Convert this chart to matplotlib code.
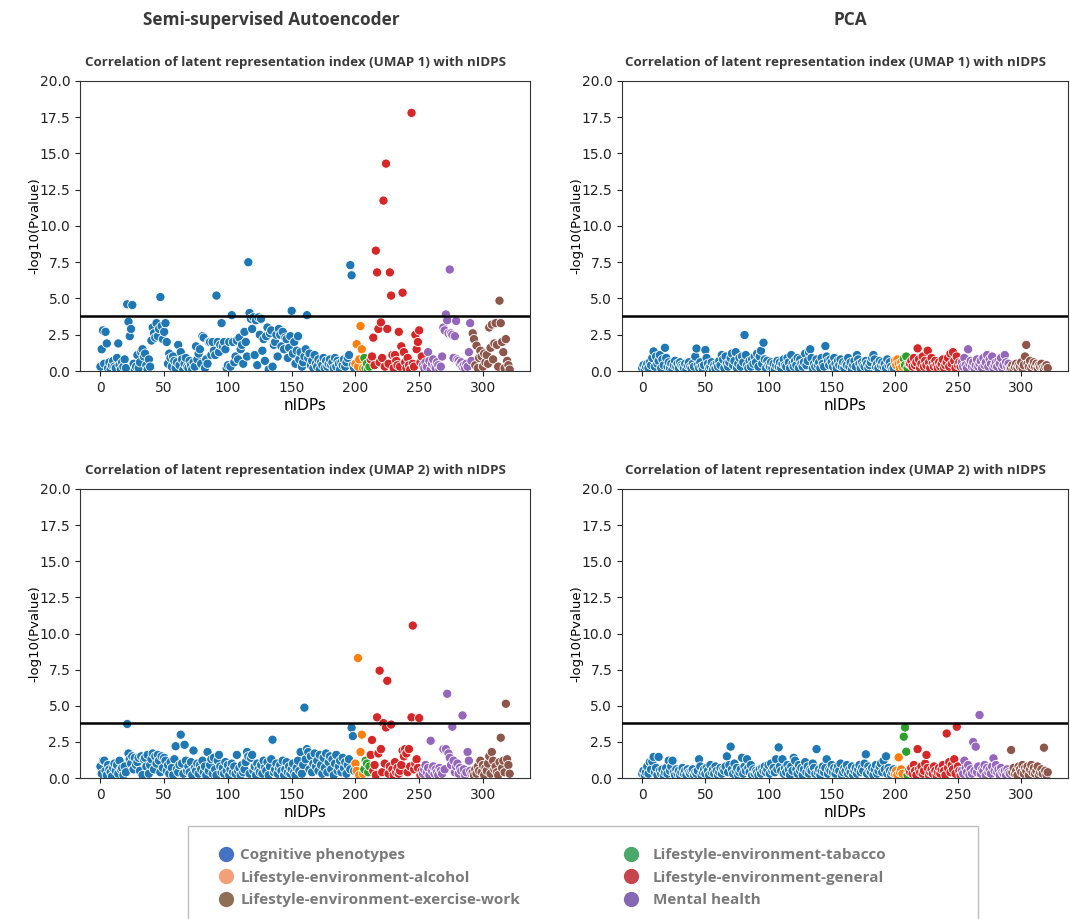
import numpy as np
import matplotlib.pyplot as plt
from matplotlib.lines import Line2D
from matplotlib.patches import Rectangle

# Categorías en el orden de los nIDPs.
categorias = [
    "Cognitive phenotypes",
    "Lifestyle-environment-alcohol",
    "Lifestyle-environment-tabacco",
    "Lifestyle-environment-general",
    "Mental health",
    "Lifestyle-environment-exercise-work",
]
colores_puntos = ["#1f77b4", "#ff7f0e", "#2ca02c", "#d62728", "#9467bd", "#8c564b"]

# Leyenda común (orden por columnas).
orden_leyenda = [0, 1, 5, 2, 3, 4]
colores_leyenda = ["#4672c4", "#f2a077", "#4aa86a", "#c4454b", "#8468b4", "#8e6e55"]

umbral = 3.81
columnas = ["Semi-supervised Autoencoder", "PCA"]
titulo_umap1 = "Correlation of latent representation index (UMAP 1) with nIDPS"
titulo_umap2 = "Correlation of latent representation index (UMAP 2) with nIDPS"

# ---------------- Autoencoder, UMAP 1 ----------------
ae_u1_cognitive = [
    0.3, 1.5, 2.8, 0.5, 2.7, 1.9, 0.2, 0.6, 0.1, 0.4,
    0.7, 0.3, 0.2, 0.9, 1.9, 0.4, 0.1, 0.6, 0.3, 0.8,
    0.2, 4.6, 3.4, 2.4, 2.9, 4.55, 0.5, 0.1, 0.3, 1.1,
    0.2, 0.6, 1.3, 1.5, 1.0, 1.2, 0.4, 0.1, 0.8, 0.3,
    2.1, 3.0, 2.6, 2.3, 3.3, 2.4, 2.9, 5.1, 3.1, 2.2,
    2.7, 3.3, 2.0, 0.5, 1.2, 0.9, 0.3, 1.0, 0.7, 0.2,
    0.6, 1.8, 0.4, 1.3, 0.8, 0.1, 0.5, 0.9, 0.3, 0.2,
    0.7, 0.4, 0.1, 0.6, 0.3, 1.7, 0.8, 1.2, 1.5, 0.5,
    2.4, 2.3, 0.2, 0.8, 0.5, 2.0, 2.0, 1.1, 2.0, 1.4,
    1.1, 5.2, 2.0, 1.3, 1.8, 3.3, 1.7, 2.0, 1.5, 0.2,
    0.4, 2.0, 0.3, 3.85, 2.0, 0.6, 1.0, 2.1, 0.8, 2.3,
    1.5, 1.8, 0.5, 2.7, 2.0, 1.0, 7.5, 4.0, 3.6, 2.9,
    3.7, 1.1, 3.5, 0.4, 3.7, 2.5, 3.6, 1.4, 2.2, 0.7,
    2.4, 3.0, 0.1, 2.6, 2.8, 0.3, 1.8, 2.0, 2.5, 1.0,
    2.9, 2.5, 1.7, 2.7, 1.5, 2.3, 2.2, 0.9, 1.6, 2.4,
    4.15, 1.2, 2.0, 0.5, 1.4, 2.4, 0.8, 1.3, 0.3, 0.6,
    1.0, 1.5, 3.85, 0.9, 1.2, 0.4, 0.7, 0.2, 1.1, 0.5,
    0.3, 0.8, 0.1, 0.6, 0.4, 0.9, 0.2, 0.7, 0.3, 0.5,
    0.8, 0.4, 0.6, 0.2, 0.9, 0.3, 0.7, 0.5, 0.1, 0.6,
    0.4, 0.8, 0.3, 0.6, 0.9, 1.1, 7.3, 6.6, 0.4, 0.2,
]
ae_u1_alcohol = [0.5, 1.85, 0.3, 0.8, 3.1, 1.5, 0.2]
ae_u1_tabacco = [0.9, 0.2, 0.5, 0.1, 0.3]
ae_u1_general = [
    0.8, 1.0, 2.3, 0.4, 8.3, 6.8, 2.9, 0.6, 3.35, 0.9,
    11.75, 0.3, 14.3, 2.9, 0.5, 6.8, 5.2, 1.1, 0.2, 1.1,
    0.7, 0.4, 2.7, 0.3, 1.7, 5.4, 1.3, 0.6, 0.2, 0.9,
    0.4, 0.1, 17.8, 0.5, 0.3, 2.5, 1.5, 2.0, 2.8, 0.6,
    1.0,
]
ae_u1_mental = [
    0.4, 0.2, 0.6, 0.3, 1.3, 0.7, 0.1, 0.5, 0.8, 0.3,
    0.2, 0.6, 0.4, 0.1, 0.3, 1.0, 3.0, 2.8, 3.9, 3.5,
    2.6, 7.0, 2.6, 2.5, 0.9, 2.4, 3.45, 0.8, 0.7, 0.5,
    0.6, 0.3, 0.4, 0.2, 0.5, 0.3, 1.3, 3.3, 0.7,
]
ae_u1_exercise = [
    2.6, 2.2, 0.4, 1.75, 0.2, 0.9, 1.4, 1.0, 0.3, 1.2,
    0.6, 1.1, 0.5, 3.0, 1.6, 3.2, 0.8, 1.9, 3.3, 1.8,
    0.3, 4.85, 3.3, 2.0, 1.3, 0.2, 2.2, 0.7, 0.4, 0.1,
]

# ---------------- PCA, UMAP 1 ----------------
pca_u1_cognitive = [
    0.2, 0.4, 0.1, 0.3, 0.5, 0.2, 0.6, 0.4, 0.9, 1.35,
    0.3, 1.0, 0.5, 0.7, 1.1, 0.2, 0.8, 0.4, 1.6, 0.9,
    0.3, 0.6, 0.2, 0.5, 0.1, 0.4, 0.7, 0.3, 0.5, 0.2,
    0.6, 0.4, 0.3, 0.2, 0.5, 0.1, 0.4, 0.6, 0.3, 0.2,
    0.5, 0.3, 1.0, 1.55, 0.4, 0.2, 0.6, 0.3, 0.1, 0.4,
    1.45, 0.9, 0.5, 0.2, 0.3, 0.6, 0.1, 0.4, 0.2, 0.5,
    0.3, 0.7, 0.4, 1.1, 0.8, 0.2, 1.0, 0.5, 0.3, 0.6,
    0.9, 1.2, 0.4, 0.7, 1.3, 0.2, 0.5, 0.9, 0.3, 1.0,
    0.6, 2.48, 1.1, 0.4, 0.2, 0.7, 0.3, 0.8, 0.5, 1.0,
    0.6, 1.2, 0.3, 1.0, 1.4, 0.5, 1.95, 0.8, 0.2, 0.7,
    0.4, 0.3, 0.6, 0.2, 0.5, 0.1, 0.4, 0.7, 0.3, 0.6,
    0.2, 0.5, 0.8, 0.4, 0.3, 0.9, 0.6, 0.2, 1.1, 0.5,
    0.3, 0.7, 0.4, 0.9, 0.2, 0.8, 0.5, 0.3, 0.6, 1.2,
    0.4, 0.7, 1.3, 1.5, 0.9, 0.2, 0.5, 0.3, 0.8, 0.4,
    0.6, 0.2, 0.9, 0.5, 0.3, 1.72, 1.0, 0.7, 0.4, 0.8,
    0.6, 0.3, 0.9, 0.5, 0.2, 0.7, 0.4, 0.8, 0.3, 0.6,
    0.2, 0.5, 0.4, 0.9, 0.3, 0.6, 0.1, 0.4, 0.7, 0.3,
    1.1, 0.8, 0.5, 0.2, 0.6, 0.4, 0.3, 0.7, 0.5, 0.2,
    0.4, 0.6, 0.9, 1.1, 0.8, 0.3, 0.5, 0.2, 0.7, 0.4,
    0.6, 0.3, 0.5, 0.2, 0.8, 0.4, 0.6, 0.3, 0.1, 0.2,
]
pca_u1_alcohol = [0.7, 0.4, 0.8, 0.5, 0.2, 0.6, 0.3]
pca_u1_tabacco = [0.85, 0.4, 1.0, 0.2, 0.5]
pca_u1_general = [
    0.5, 0.7, 0.3, 0.9, 0.4, 0.6, 1.56, 0.8, 0.2, 0.5,
    1.0, 0.3, 0.7, 0.4, 1.4, 0.6, 0.2, 0.9, 0.5, 0.3,
    0.7, 0.4, 0.2, 0.6, 0.3, 0.5, 0.8, 0.2, 0.4, 0.6,
    0.9, 0.3, 1.2, 0.5, 1.3, 0.7, 0.2, 1.0, 0.4, 0.6,
    0.3,
]
pca_u1_mental = [
    0.6, 0.3, 0.9, 0.4, 0.2, 1.5, 0.5, 0.7, 0.3, 0.6,
    0.2, 0.4, 0.8, 0.3, 0.5, 0.7, 0.2, 0.9, 0.4, 0.6,
    1.1, 0.3, 0.8, 0.5, 1.0, 0.2, 0.4, 0.6, 0.3, 0.7,
    0.5, 0.9, 0.2, 0.4, 1.1, 0.6, 0.3, 0.5, 0.2,
]
pca_u1_exercise = [
    0.2, 0.4, 0.1, 0.3, 0.5, 0.2, 0.4, 0.3, 0.6, 0.2,
    0.4, 1.0, 1.8, 0.5, 0.3, 0.7, 0.2, 0.4, 0.6, 0.3,
    0.5, 0.2, 0.4, 0.3, 0.5, 0.2, 0.1, 0.3, 0.4, 0.2,
]

# ---------------- Autoencoder, UMAP 2 ----------------
ae_u2_cognitive = [
    0.8, 0.3, 1.2, 1.2, 0.5, 0.2, 0.9, 0.6, 0.4, 0.1,
    0.7, 1.0, 0.5, 0.9, 0.3, 1.2, 0.6, 0.7, 0.2, 0.8,
    0.4, 3.74, 1.7, 1.3, 1.0, 1.5, 0.6, 1.4, 0.9, 1.1,
    1.4, 0.5, 1.5, 0.2, 1.3, 1.4, 0.8, 1.6, 0.3, 0.9,
    1.3, 1.7, 0.6, 1.5, 1.0, 1.6, 1.2, 0.4, 1.5, 0.7,
    1.4, 1.2, 0.5, 0.9, 0.3, 1.1, 0.7, 0.2, 1.3, 2.2,
    0.6, 0.4, 0.9, 3.0, 1.0, 0.3, 2.3, 1.2, 0.5, 0.8,
    0.4, 1.1, 0.2, 1.9, 0.7, 0.5, 1.0, 0.3, 0.9, 0.6,
    1.2, 0.4, 0.8, 0.2, 1.8, 0.5, 0.9, 1.3, 0.3, 1.4,
    0.6, 0.2, 1.2, 1.6, 0.8, 0.4, 0.7, 0.3, 1.1, 0.5,
    0.9, 0.2, 0.6, 1.0, 0.4, 0.8, 0.3, 1.6, 0.5, 0.7,
    0.2, 0.9, 0.4, 0.6, 1.1, 1.8, 1.5, 0.3, 1.4, 1.6,
    0.5, 0.8, 0.2, 1.0, 0.6, 0.4, 0.9, 0.3, 1.2, 0.7,
    0.5, 1.1, 0.2, 0.8, 1.3, 2.65, 0.4, 0.6, 1.0, 0.3,
    0.7, 0.9, 0.5, 1.2, 0.2, 0.6, 1.1, 0.4, 0.8, 0.3,
    0.6, 1.0, 0.4, 0.2, 0.7, 1.2, 0.5, 1.8, 0.3, 0.9,
    4.87, 1.3, 2.0, 1.8, 0.6, 1.5, 0.4, 1.0, 1.7, 0.8,
    1.2, 0.5, 1.6, 0.9, 0.3, 1.4, 0.7, 1.7, 0.4, 1.1,
    1.5, 0.6, 1.3, 0.2, 1.0, 1.6, 0.5, 0.8, 1.2, 0.4,
    1.4, 0.7, 1.1, 0.3, 0.9, 1.3, 0.6, 3.48, 2.9, 0.5,
]
ae_u2_alcohol = [1.0, 0.5, 8.3, 0.2, 1.8, 3.0, 0.3]
ae_u2_tabacco = [0.6, 1.2, 1.0, 0.4, 0.8]
ae_u2_general = [
    1.6, 2.63, 0.5, 0.9, 0.2, 4.2, 1.7, 7.43, 2.0, 0.4,
    3.8, 1.0, 3.5, 6.73, 0.3, 0.8, 3.7, 0.6, 0.2, 1.1,
    0.4, 0.7, 0.3, 0.5, 0.9, 1.9, 1.5, 2.0, 1.7, 0.4,
    2.0, 0.8, 4.2, 10.55, 0.6, 1.0, 1.3, 0.7, 4.15, 0.2,
    0.5,
]
ae_u2_mental = [
    0.3, 0.6, 0.9, 0.4, 0.7, 0.2, 2.58, 0.5, 0.8, 0.3,
    0.6, 0.4, 0.2, 0.7, 0.5, 0.3, 2.0, 0.6, 2.0, 5.83,
    1.7, 1.4, 0.9, 3.55, 1.2, 0.4, 0.8, 1.0, 0.3, 0.7,
    0.5, 4.33, 0.6, 0.2, 0.4, 1.8, 1.2, 0.5, 0.3,
]
ae_u2_exercise = [
    0.4, 0.2, 0.6, 0.3, 0.8, 0.5, 1.2, 0.4, 0.9, 0.2,
    0.7, 0.5, 1.0, 1.5, 0.3, 1.8, 1.2, 0.6, 0.8, 0.4,
    0.2, 1.1, 2.79, 0.7, 1.2, 0.4, 5.14, 1.3, 0.9, 0.3,
]

# ---------------- PCA, UMAP 2 ----------------
pca_u2_cognitive = [
    0.3, 0.5, 0.2, 0.4, 0.8, 0.3, 1.1, 0.6, 1.15, 1.46,
    0.4, 0.7, 0.2, 1.46, 0.5, 0.3, 0.6, 0.2, 0.4, 0.7,
    0.3, 1.2, 0.5, 0.8, 1.2, 0.4, 0.2, 0.6, 0.3, 0.5,
    0.2, 0.4, 0.7, 0.3, 0.5, 0.2, 0.6, 0.4, 0.3, 0.5,
    0.6, 0.2, 0.4, 0.3, 0.5, 1.3, 0.8, 0.2, 0.4, 0.6,
    0.3, 0.7, 0.5, 0.2, 0.9, 0.4, 0.6, 0.3, 0.8, 0.5,
    0.2, 0.4, 0.7, 0.3, 0.6, 0.5, 0.8, 1.5, 0.4, 0.9,
    2.17, 0.6, 0.3, 1.0, 0.5, 0.7, 0.2, 0.4, 0.6, 1.4,
    0.3, 0.8, 0.5, 1.3, 0.7, 0.4, 0.9, 0.2, 0.6, 0.3,
    0.5, 0.4, 0.2, 0.6, 0.3, 0.7, 0.5, 0.8, 0.4, 0.6,
    0.9, 0.3, 1.0, 0.5, 0.7, 0.4, 1.3, 0.6, 2.12, 0.8,
    0.5, 1.3, 0.3, 0.7, 0.4, 0.9, 0.6, 0.2, 0.8, 0.5,
    1.4, 1.2, 0.6, 0.3, 0.9, 0.5, 0.7, 0.2, 0.6, 1.1,
    0.4, 0.8, 0.3, 0.6, 0.5, 1.0, 0.7, 0.3, 2.0, 0.4,
    0.6, 0.2, 0.5, 0.8, 0.4, 0.7, 1.3, 0.3, 0.6, 0.5,
    0.9, 0.4, 0.7, 0.3, 0.6, 0.8, 0.5, 1.0, 0.2, 0.4,
    0.7, 0.5, 0.9, 0.3, 0.6, 0.4, 0.8, 0.2, 0.5, 0.7,
    0.3, 0.6, 0.9, 0.4, 0.7, 0.5, 1.0, 1.64, 0.3, 0.8,
    0.5, 0.4, 0.7, 0.2, 0.6, 0.9, 0.3, 0.5, 0.8, 1.0,
    0.4, 1.2, 0.6, 1.5, 0.3, 0.7, 0.5, 0.2, 0.4, 0.6,
]
pca_u2_alcohol = [0.3, 0.5, 0.2, 1.43, 0.4, 0.6, 0.3]
pca_u2_tabacco = [2.86, 3.5, 1.82, 0.2, 0.5]
pca_u2_general = [
    0.4, 0.7, 0.3, 0.9, 0.5, 0.2, 2.0, 0.6, 0.4, 0.8,
    0.3, 0.5, 1.0, 1.6, 0.7, 0.2, 0.4, 0.6, 0.3, 0.8,
    0.5, 0.2, 0.4, 0.7, 0.3, 0.6, 0.9, 0.5, 0.2, 3.08,
    0.7, 1.1, 0.4, 0.9, 0.6, 1.3, 0.3, 3.55, 0.8, 0.5,
    0.2,
]
pca_u2_mental = [
    0.5, 0.3, 1.2, 0.7, 0.4, 0.9, 0.2, 0.6, 0.3, 2.49,
    0.5, 2.17, 0.4, 0.8, 4.36, 0.3, 0.6, 0.5, 0.9, 0.2,
    0.7, 0.4, 0.6, 0.3, 0.8, 1.36, 0.5, 0.9, 0.4, 0.6,
    0.2, 0.7, 0.4, 0.3, 0.5, 0.2, 0.6, 0.4, 0.3,
]
pca_u2_exercise = [
    1.94, 0.4, 0.7, 0.3, 0.5, 0.2, 0.8, 0.6, 0.4, 0.9,
    0.3, 0.7, 0.5, 0.8, 0.2, 0.6, 0.9, 0.4, 0.7, 0.3,
    0.5, 0.8, 0.2, 0.4, 0.6, 0.3, 2.1, 0.5, 0.2, 0.4,
]

FUENTE_TITULO = ["Open Sans", "DejaVu Sans"]


def graficar_panel(ax, series, titulo):
    """Dibuja un panel tipo Manhattan con la línea de significancia."""
    valores = np.concatenate([np.asarray(s, dtype=float) for s in series])
    colores = np.concatenate(
        [[colores_puntos[k]] * len(s) for k, s in enumerate(series)]
    )
    x = np.arange(len(valores))

    ax.scatter(
        x,
        valores,
        c=colores,
        s=44,
        edgecolors="white",
        linewidths=0.6,
        zorder=2,
    )
    ax.axhline(umbral, color="black", linewidth=1.8, zorder=3)

    ax.set_xlim(-16, 337)
    ax.set_ylim(0, 20)
    ax.set_xticks(np.arange(0, 301, 50))
    ax.set_yticks(np.arange(0, 20.1, 2.5))
    ax.set_yticklabels([f"{v:.1f}" for v in np.arange(0, 20.1, 2.5)])
    ax.tick_params(labelsize=10, colors="#222222")
    ax.set_xlabel("nIDPs", fontsize=11, labelpad=2)
    ax.set_ylabel("-log10(Pvalue)", fontsize=9.5, labelpad=-1)
    for lado in ax.spines.values():
        lado.set_color("#333333")
    ax.set_title(
        titulo,
        fontsize=9.6,
        fontweight="bold",
        color="#3a3a3a",
        family=FUENTE_TITULO,
        pad=11,
        x=0.478,
    )


def main():
    fig = plt.figure(figsize=(10.70, 9.19), dpi=100)

    paneles = [
        ([0.0748, 0.5963, 0.4206, 0.3156],
         [ae_u1_cognitive, ae_u1_alcohol, ae_u1_tabacco,
          ae_u1_general, ae_u1_mental, ae_u1_exercise], titulo_umap1),
        ([0.5813, 0.5963, 0.4168, 0.3156],
         [pca_u1_cognitive, pca_u1_alcohol, pca_u1_tabacco,
          pca_u1_general, pca_u1_mental, pca_u1_exercise], titulo_umap1),
        ([0.0748, 0.1534, 0.4206, 0.3145],
         [ae_u2_cognitive, ae_u2_alcohol, ae_u2_tabacco,
          ae_u2_general, ae_u2_mental, ae_u2_exercise], titulo_umap2),
        ([0.5813, 0.1534, 0.4168, 0.3145],
         [pca_u2_cognitive, pca_u2_alcohol, pca_u2_tabacco,
          pca_u2_general, pca_u2_mental, pca_u2_exercise], titulo_umap2),
    ]

    for posicion, series, titulo in paneles:
        ax = fig.add_axes(posicion)
        graficar_panel(ax, series, titulo)

    # Títulos de cada columna.
    fig.text(271 / 1070, 1 - 20 / 919, columnas[0], ha="center", va="center",
             fontsize=12.4, fontweight="bold", color="#3a3a3a", family=FUENTE_TITULO)
    fig.text(850 / 1070, 1 - 20 / 919, columnas[1], ha="center", va="center",
             fontsize=12.4, fontweight="bold", color="#3a3a3a", family=FUENTE_TITULO)

    # Marco de la leyenda.
    fig.patches.append(
        Rectangle(
            (188 / 1070, -0.01),
            790 / 1070,
            (919 - 826) / 919 + 0.01,
            transform=fig.transFigure,
            facecolor="white",
            edgecolor="#bfbfbf",
            linewidth=1.0,
        )
    )

    manejadores = [
        Line2D([], [], marker="o", linestyle="none", markersize=11,
               markerfacecolor=colores_leyenda[k], markeredgecolor="none",
               label=categorias[k])
        for k in orden_leyenda
    ]
    estilo_texto = {"weight": "bold", "size": 11, "family": FUENTE_TITULO}

    for columna, x0, separacion in [
        (manejadores[:3], 212 / 1070, 0.45),
        (manejadores[3:], 617 / 1070, 0.95),
    ]:
        leyenda = fig.legend(
            handles=columna,
            loc="upper left",
            bbox_to_anchor=(x0, 1 - 842 / 919),
            frameon=False,
            prop=estilo_texto,
            handletextpad=separacion,
            handlelength=1.0,
            labelspacing=0.55,
            borderaxespad=0,
        )
        for texto in leyenda.get_texts():
            texto.set_color("#7a7a7a")

    fig.savefig("out.png", dpi=100)


if __name__ == "__main__":
    main()
